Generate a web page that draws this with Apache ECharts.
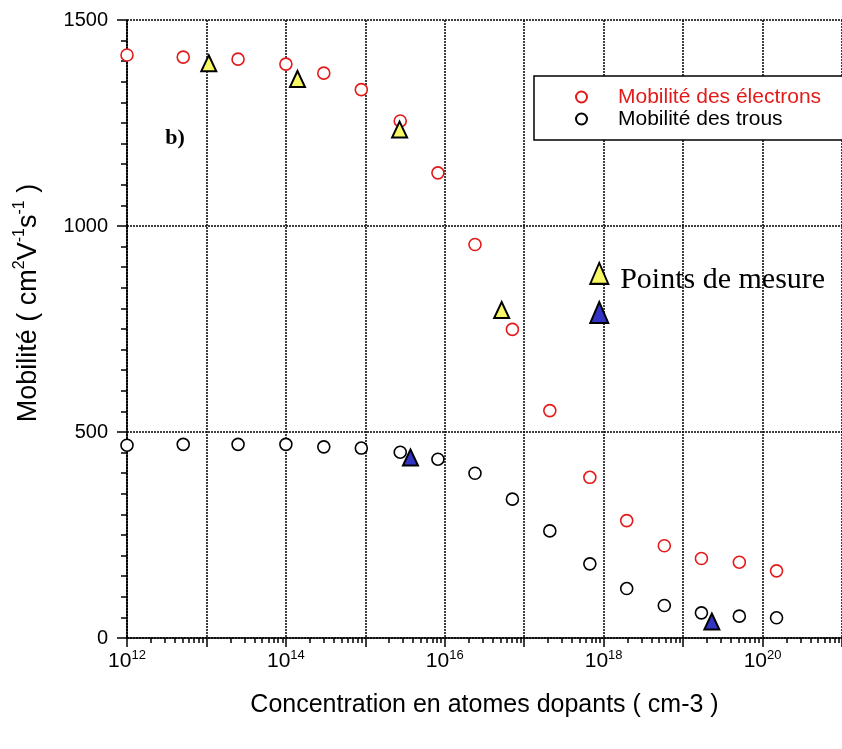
<!DOCTYPE html>
<html>
<head>
<meta charset="utf-8">
<script src="https://cdn.jsdelivr.net/npm/echarts@6/dist/echarts.min.js"></script>
<style>
  html, body { margin: 0; padding: 0; background: #fff; }
  #chart { width: 842px; height: 749px; }
</style>
</head>
<body>
<div id="chart"></div>
<script>
// Doping concentration (cm-3) shared by both mobility curves
const concentration = [1e12, 5.1e12, 2.5e13, 1e14, 3e14, 8.9e14, 2.75e15, 8.2e15, 2.4e16,
  7.1e16, 2.1e17, 6.7e17, 1.95e18, 5.8e18, 1.7e19, 5.1e19, 1.5e20];
// Electron mobility (cm2/V/s)
const mobElectrons = [1415, 1410, 1405, 1393, 1371, 1331, 1255, 1129, 955,
  749, 552, 390, 285, 224, 193, 184, 163];
// Hole mobility (cm2/V/s)
const mobHoles = [468, 470, 470, 470, 464, 461, 451, 434, 400,
  337, 260, 180, 120, 79, 61, 53, 49];

// Measured points, n-type samples (yellow)
const measNConc = [1.07e13, 1.4e14, 2.7e15, 5.2e16];
const measNMob = [1395, 1357, 1234, 796];
// Measured points, p-type samples (blue)
const measPConc = [3.7e15, 2.3e19];
const measPMob = [438, 40];

// Key symbols for the measured points
const keyConc = [8.8e17, 8.8e17];
const keyMob = [885, 790];

// Axis ticks
const xLabelExponents = [12, 14, 16, 18, 20];
const xDecades = [12, 13, 14, 15, 16, 17, 18, 19, 20];
const yMax = 1500;
const yStep = 500;

const SANS = 'Liberation Sans, Arial, sans-serif';
const SERIF = 'Liberation Serif, Times New Roman, serif';
const YELLOW = '#f8f866';
const BLUE = '#3434c4';
const RED = '#e41a1a';

const zip = (xs, ys) => xs.map((x, i) => [x, ys[i]]);

// minor log ticks 2..9 within each decade
const minorTickValues = [];
xDecades.forEach(d => {
  for (let k = 2; k <= 9; k++) minorTickValues.push(k * Math.pow(10, d));
});

const chart = echarts.init(document.getElementById('chart'), null, { renderer: 'canvas' });

const axisBlack = { color: '#000', width: 1.5 };
const gridDots = { color: '#000', width: 1.5, type: [2, 1] };

chart.setOption({
  animation: false,
  backgroundColor: '#fff',
  grid: { left: 127, right: -8, top: 20, bottom: 111, containLabel: false },
  xAxis: [
    {
      type: 'log',
      logBase: 10,
      min: 1e12,
      max: 1e21,
      position: 'bottom',
      axisLine: { show: true, lineStyle: axisBlack },
      axisTick: { show: true, length: 9, lineStyle: axisBlack },
      axisLabel: {
        customValues: xLabelExponents.map(e => Math.pow(10, e)),
        margin: 11,
        formatter: v => '{b|10}{s|' + Math.round(Math.log10(v)) + '}',
        rich: {
          b: { fontFamily: SANS, fontSize: 21, lineHeight: 23, color: '#000', verticalAlign: 'bottom' },
          s: { fontFamily: SANS, fontSize: 13, lineHeight: 13, color: '#000', verticalAlign: 'top' }
        }
      },
      splitLine: { show: true, lineStyle: gridDots },
      name: 'Concentration en atomes dopants ( cm-3 )',
      nameLocation: 'middle',
      nameGap: 55,
      nameTextStyle: { fontFamily: SANS, fontSize: 25, color: '#000' }
    },
    {
      // second bottom axis carrying only the minor log ticks
      type: 'log',
      logBase: 10,
      min: 1e12,
      max: 1e21,
      position: 'bottom',
      axisLine: { show: false },
      axisTick: { show: true, length: 5, lineStyle: axisBlack, customValues: minorTickValues },
      axisLabel: { show: false },
      splitLine: { show: false }
    }
  ],
  yAxis: {
    type: 'value',
    min: 0,
    max: yMax,
    interval: yStep,
    axisLine: { show: true, lineStyle: axisBlack },
    axisTick: { show: true, length: 10, lineStyle: axisBlack },
    minorTick: { show: true, splitNumber: 10, length: 6, lineStyle: axisBlack },
    axisLabel: { fontFamily: SANS, fontSize: 20, color: '#000', margin: 19, formatter: v => String(v) },
    splitLine: { show: true, lineStyle: gridDots }
  },
  legend: {
    orient: 'vertical',
    left: 534,
    top: 76,
    padding: [10, 30, 10, 41],
    itemWidth: 11,
    itemHeight: 11,
    itemGap: 0,
    selectedMode: false,
    backgroundColor: '#fff',
    borderColor: '#000',
    borderWidth: 1.5,
    borderRadius: 0,
    itemStyle: { opacity: 1 },
    textStyle: { fontFamily: SANS, fontSize: 21, lineHeight: 22, padding: [0, 0, 0, 26] },
    data: [
      { name: 'Mobilité des électrons', textStyle: { color: RED } },
      { name: 'Mobilité des trous', textStyle: { color: '#000' } }
    ],
    z: 5
  },
  graphic: [
    {
      type: 'text',
      x: 27,
      y: 303,
      rotation: Math.PI / 2,
      style: {
        text: '{n|Mobilité ( cm}{s|2}{n|V}{s|-1}{n|s}{s|-1}{n| )}',
        align: 'center',
        verticalAlign: 'middle',
        fill: '#000',
        rich: {
          n: { fontFamily: SANS, fontSize: 27, lineHeight: 30, verticalAlign: 'bottom', fill: '#000' },
          s: { fontFamily: SANS, fontSize: 16, lineHeight: 16, verticalAlign: 'top', fill: '#000' }
        }
      }
    },
    {
      type: 'text',
      x: 175,
      y: 138,
      style: {
        text: 'b)',
        align: 'center',
        verticalAlign: 'middle',
        font: 'bold 22px ' + SERIF,
        fill: '#000'
      }
    }
  ],
  series: [
    {
      name: 'Mobilité des électrons',
      type: 'scatter',
      symbol: 'circle',
      symbolSize: 12,
      itemStyle: { color: '#fff', borderColor: RED, borderWidth: 1.6, opacity: 1 },
      data: zip(concentration, mobElectrons),
      z: 3
    },
    {
      name: 'Mobilité des trous',
      type: 'scatter',
      symbol: 'circle',
      symbolSize: 12,
      itemStyle: { color: '#fff', borderColor: '#000', borderWidth: 1.6, opacity: 1 },
      data: zip(concentration, mobHoles),
      z: 3
    },
    {
      name: 'Mesure type n',
      type: 'scatter',
      symbol: 'triangle',
      symbolSize: [15, 16],
      itemStyle: { color: YELLOW, borderColor: '#000', borderWidth: 2, opacity: 1 },
      data: zip(measNConc, measNMob),
      z: 4
    },
    {
      name: 'Mesure type p',
      type: 'scatter',
      symbol: 'triangle',
      symbolSize: [15, 16],
      itemStyle: { color: BLUE, borderColor: '#000', borderWidth: 2, opacity: 1 },
      data: zip(measPConc, measPMob),
      z: 4
    },
    {
      name: 'Points de mesure',
      type: 'scatter',
      symbol: 'triangle',
      symbolSize: [18, 21],
      silent: true,
      z: 4,
      itemStyle: { opacity: 1 },
      data: [
        {
          value: [keyConc[0], keyMob[0]],
          itemStyle: { color: YELLOW, borderColor: '#000', borderWidth: 2, opacity: 1 },
          label: {
            show: true,
            position: 'right',
            distance: 11,
            offset: [0, 7],
            formatter: 'Points de mesure',
            fontFamily: SERIF,
            fontSize: 30,
            color: '#000',
            opacity: 1
          }
        },
        {
          value: [keyConc[1], keyMob[1]],
          itemStyle: { color: BLUE, borderColor: '#000', borderWidth: 2, opacity: 1 }
        }
      ]
    }
  ]
});
</script>
</body>
</html>
